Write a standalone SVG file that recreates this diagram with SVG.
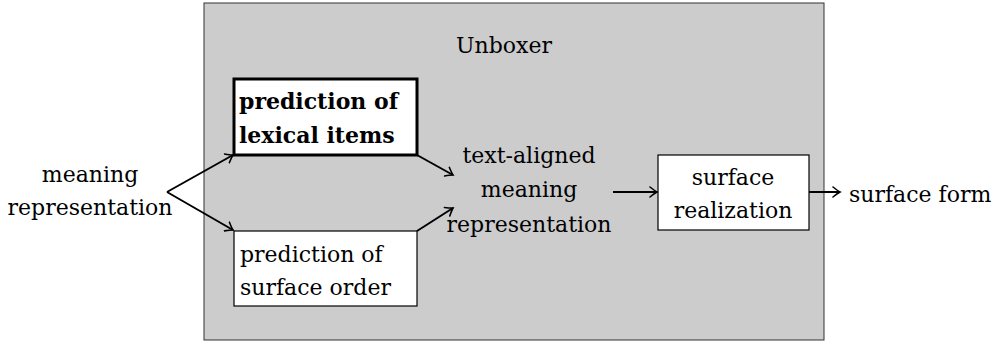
<svg xmlns="http://www.w3.org/2000/svg" width="1008" height="344" viewBox="0 0 1008 344">
<style>
text{font-family:"DejaVu Serif","Liberation Serif",serif;font-size:22px;fill:#000}
.c{text-anchor:middle}
.b{font-weight:bold}
.box{fill:#fff;stroke:#000;stroke-width:1.2}
.conn{fill:none;stroke:#000;stroke-width:2}
</style>
<defs>
<marker id="ah" viewBox="-8 -6 10 12" markerWidth="10" markerHeight="12" refX="0" refY="0" orient="auto" markerUnits="userSpaceOnUse">
<path d="M-7,-5 Q-2,-1 0,0 Q-2,1 -7,5" fill="none" stroke="#000" stroke-width="1.6" stroke-linecap="round"/>
</marker>
</defs>
<g id="unboxer">
<rect x="204" y="3" width="620" height="337" fill="#cccccc" stroke="#333" stroke-width="1"/>
<text class="c" x="504" y="53">Unboxer</text>
</g>
<g id="meaning-representation">
<text class="c" x="90" y="182">meaning</text>
<text class="c" x="90" y="215">representation</text>
</g>
<g id="lexical">
<rect x="234" y="79" width="183" height="76" fill="#fff" stroke="#000" stroke-width="3"/>
<text class="b" x="239" y="109">prediction of</text>
<text class="b" x="239" y="143">lexical items</text>
</g>
<g id="order">
<rect class="box" x="234" y="231" width="183" height="75"/>
<text x="240" y="262">prediction of</text>
<text x="240" y="295">surface order</text>
</g>
<g id="aligned">
<text class="c" x="529" y="163">text-aligned</text>
<text class="c" x="529" y="197">meaning</text>
<text class="c" x="529" y="232">representation</text>
</g>
<g id="realization">
<rect class="box" x="658" y="155" width="151" height="75"/>
<text class="c" x="733" y="185">surface</text>
<text class="c" x="733" y="218">realization</text>
</g>
<g id="surface-form">
<text x="849" y="202">surface form</text>
</g>
<g id="connectors">
<path class="conn" d="M167,192 L233,155" marker-end="url(#ah)"/>
<path class="conn" d="M167,192 L233,230" marker-end="url(#ah)"/>
<path class="conn" d="M417,155 L453,175" marker-end="url(#ah)"/>
<path class="conn" d="M417,231 L453,208" marker-end="url(#ah)"/>
<path class="conn" d="M613,192 L657,192" marker-end="url(#ah)"/>
<path class="conn" d="M809,192 L840,192" marker-end="url(#ah)"/>
</g>
</svg>
